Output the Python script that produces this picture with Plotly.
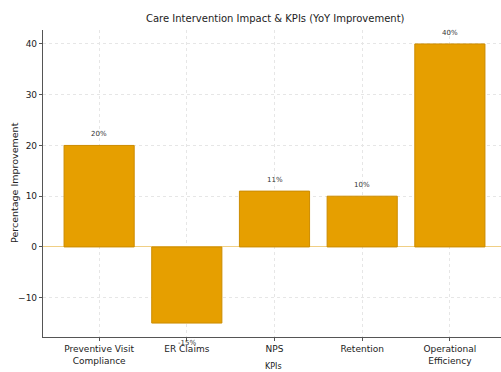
import plotly.graph_objects as go

categories = ["Preventive Visit<br>Compliance", "ER Claims", "NPS", "Retention", "Operational<br>Efficiency"]
values = [20, -15, 11, 10, 40]
labels = ["20%", "-15%", "11%", "10%", "40%"]

W, H = 501, 372
L, R, T, B = 43, 0, 30, 35
pw, ph = W - L - R, H - T - B

def px_x(p):
    return (p - L) / pw

def px_y(p):
    return (H - B - p) / ph

fig = go.Figure()
fig.add_trace(go.Bar(
    x=list(range(len(categories))), y=values,
    marker=dict(color="#E69F00", line=dict(color="#CC8C00", width=1)),
    width=0.8,
))

annotations = [
    dict(text="Care Intervention Impact & KPIs (YoY Improvement)",
         x=px_x(275), y=px_y(19), xref="paper", yref="paper",
         showarrow=False, yanchor="middle", xanchor="center",
         font=dict(size=10, color="#222")),
    dict(text="Percentage Improvement", textangle=-90,
         x=px_x(14), y=px_y(183), xref="paper", yref="paper",
         showarrow=False, xanchor="center", yanchor="middle",
         font=dict(size=9.5, color="#222")),
    dict(text="KPIs",
         x=px_x(273), y=px_y(366), xref="paper", yref="paper",
         showarrow=False, xanchor="center", yanchor="middle",
         font=dict(size=8, color="#222")),
]
for i, (v, t) in enumerate(zip(values, labels)):
    annotations.append(dict(
        text=t, x=i, y=v, xref="x", yref="y", showarrow=False,
        yanchor="middle", yshift=(11 if v >= 0 else -20),
        font=dict(size=7, color="#333"),
    ))

fig.update_layout(
    width=W, height=H,
    margin=dict(l=L, r=R, t=T, b=B),
    paper_bgcolor="white", plot_bgcolor="white",
    font=dict(family="DejaVu Sans", size=9, color="#222"),
    showlegend=False,
    annotations=annotations,
)

fig.update_xaxes(
    range=[-0.64, 4.583],
    tickmode="array", tickvals=list(range(len(categories))), ticktext=categories,
    showline=True, linecolor="#555", linewidth=1.2,
    showgrid=True, gridcolor="#e6e6e6", griddash="dot",
    ticks="outside", ticklen=3, tickcolor="#555",
    zeroline=False,
)
fig.update_yaxes(
    range=[-17.75, 42.75],
    tickvals=[-10, 0, 10, 20, 30, 40],
    ticktext=["\u221210", "0", "10", "20", "30", "40"],
    showline=True, linecolor="#555", linewidth=1.2,
    showgrid=True, gridcolor="#e6e6e6", griddash="dot",
    ticks="outside", ticklen=3, tickcolor="#555",
    zeroline=True, zerolinecolor="#F0CF85", zerolinewidth=1.2,
)

fig.write_html("out.html")
